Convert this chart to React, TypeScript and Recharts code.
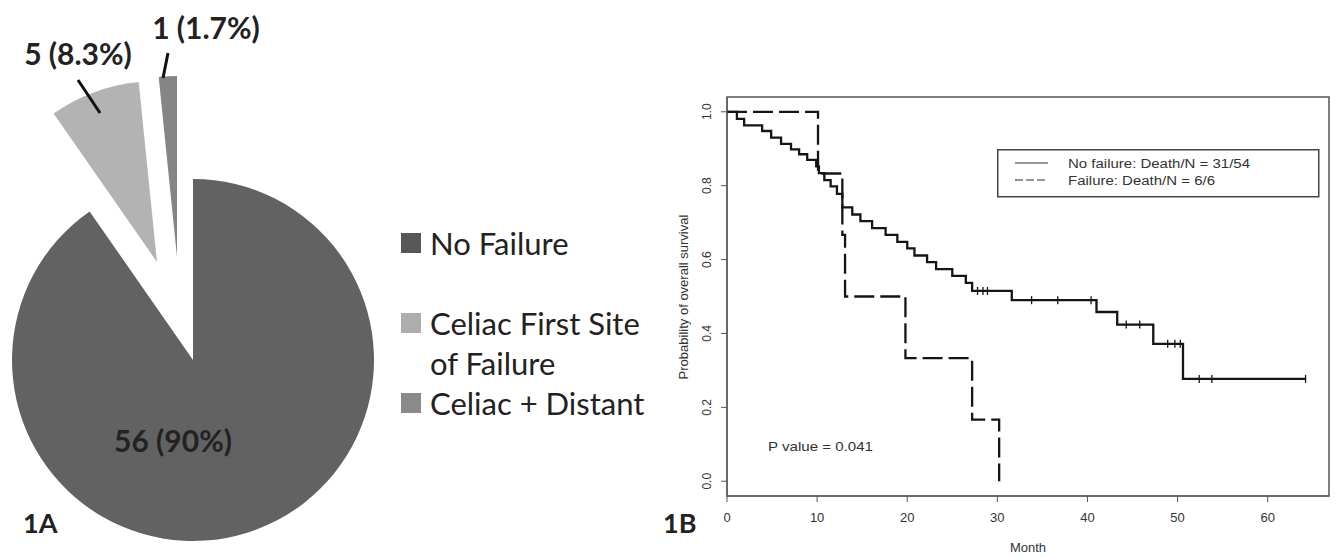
import React from 'react';
import { PieChart, Pie, Cell, ComposedChart, Line, Scatter, XAxis, YAxis, ReferenceArea } from 'recharts';

// 1A: first site of failure
const failureCategories = ['No Failure', 'Celiac First Site of Failure', 'Celiac + Distant'];
const failureCounts = [56, 5, 1];
const failureLabels = ['56 (90%)', '5 (8.3%)', '1 (1.7%)'];

// 1B: overall survival (Kaplan-Meier)
const noFailureMonths = [0, 1.1, 1.9, 3.9, 4.9, 6.0, 7.1, 8.0, 8.9, 9.9, 10.2, 10.8, 11.5, 12.2, 12.8, 13.9, 14.8, 16.1, 17.6, 18.9, 20.0, 20.8, 22.2, 23.2, 25.0, 26.5, 27.2, 31.6, 41.0, 43.3, 47.3, 50.6, 64.2];
const noFailureSurvival = [1, 0.981, 0.963, 0.948, 0.93, 0.913, 0.898, 0.885, 0.87, 0.852, 0.834, 0.815, 0.798, 0.778, 0.741, 0.722, 0.704, 0.685, 0.667, 0.648, 0.63, 0.611, 0.593, 0.574, 0.556, 0.537, 0.515, 0.49, 0.458, 0.424, 0.372, 0.277, 0.277];
const censorMonths = [27.8, 28.4, 28.9, 33.8, 36.7, 40.4, 44.3, 45.8, 48.9, 49.7, 50.3, 52.4, 53.8, 64.2];
const censorSurvival = [0.515, 0.515, 0.515, 0.49, 0.49, 0.49, 0.424, 0.424, 0.372, 0.372, 0.372, 0.277, 0.277, 0.277];
const failureMonths = [0, 10.1, 12.8, 13.1, 19.8, 27.2, 30.2];
const failureSurvival = [1, 0.833, 0.667, 0.5, 0.333, 0.167, 0];
const monthTicks = [0, 10, 20, 30, 40, 50, 60];
const survivalTicks = [0, 0.2, 0.4, 0.6, 0.8, 1.0];
const kmLegendLabels = ['No failure: Death/N = 31/54', 'Failure: Death/N = 6/6'];
const pValueText = 'P value = 0.041';

const pieData = failureCategories.map((name, i) => ({ name, value: failureCounts[i] }));
const noFailureData = noFailureMonths.map((t, i) => ({ t, s: noFailureSurvival[i] }));
const censorData = censorMonths.map((t, i) => ({ t, s: censorSurvival[i] }));
const failureData = failureMonths.map((t, i) => ({ t, s: failureSurvival[i] }));

const SLICE_COLORS = ['#626262', '#b3b3b3', '#858585'];
const LEGEND_COLORS = ['#575757', '#adadad', '#8a8a8a'];
// exploded slice offsets and label placement, relative to the pie centre
const SLICE_SHIFT = [[0, 0], [-36, -98], [-16, -103]];
const LABEL_POS = [[-20, 80], [-79, -209], [29, -230]];
const LEADERS: (number[] | null)[] = [null, [-57, -149, -79, -182], [-14, -179, -9, -204]];

const PIE_FONT = "Lato, 'Open Sans', sans-serif";
const R_FONT = "'Liberation Sans', Arial, sans-serif";
const INK = '#151515';

const sliceLabel = (layer: number) => (props: any) => {
  if (props.index !== layer) return null;
  const { cx, cy } = props;
  const [lx, ly] = LABEL_POS[layer];
  const lead = LEADERS[layer];
  return (
    <g>
      {lead && (
        <line x1={cx + lead[0]} y1={cy + lead[1]} x2={cx + lead[2]} y2={cy + lead[3]} stroke="#111" strokeWidth={3} />
      )}
      <text x={cx + lx} y={cy + ly} textAnchor="middle" dominantBaseline="central" fontFamily={PIE_FONT} fontWeight={700} fontSize={30} fill="#222">
        {failureLabels[layer]}
      </text>
    </g>
  );
};

const XTick = ({ x, y, payload }: any) => (
  <text x={x} y={y + 20} textAnchor="middle" fontFamily={R_FONT} fontSize={13} fill="#333">
    {payload.value}
  </text>
);

const YTick = ({ x, y, payload }: any) => {
  const bx = x - 10;
  return (
    <text x={bx} y={y} transform={`rotate(-90 ${bx} ${y})`} textAnchor="middle" fontFamily={R_FONT} fontSize={12} fill="#333">
      {payload.value.toFixed(1)}
    </text>
  );
};

const CensorMark = ({ cx, cy }: any) => (
  <line x1={cx} x2={cx} y1={cy - 4} y2={cy + 4} stroke={INK} strokeWidth={1.3} />
);

export default function App() {
  return (
    <div style={{ position: 'absolute', left: 0, top: 0, width: 1337, height: 558, background: '#fff', overflow: 'hidden' }}>
      <div style={{ position: 'absolute', left: 0, top: 0 }}>
        <PieChart width={390} height={558} margin={{ top: 0, right: 0, bottom: 0, left: 0 }}>
          {SLICE_SHIFT.map(([dx, dy], layer) => (
            <Pie
              key={layer}
              data={pieData}
              dataKey="value"
              nameKey="name"
              cx={193 + dx}
              cy={360 + dy}
              outerRadius={181}
              startAngle={90}
              endAngle={-270}
              stroke="none"
              label={sliceLabel(layer)}
              labelLine={false}
              legendType="none"
              isAnimationActive={false}
            >
              {pieData.map((_, j) => (
                <Cell key={j} fill={j === layer ? SLICE_COLORS[j] : 'none'} />
              ))}
            </Pie>
          ))}
        </PieChart>
      </div>

      {/* pie legend */}
      <div style={{ position: 'absolute', left: 401, top: 223, width: 262, fontFamily: PIE_FONT, fontSize: 31, color: '#222', lineHeight: '40px' }}>
        {failureCategories.map((name, i) => (
          <div key={name} style={{ position: 'relative', paddingLeft: 29, marginBottom: i === 0 ? 40 : 0 }}>
            <span style={{ position: 'absolute', left: 0, top: 10, width: 20, height: 20, background: LEGEND_COLORS[i] }} />
            {name}
          </div>
        ))}
      </div>

      <div style={{ position: 'absolute', left: 660, top: 0 }}>
        <ComposedChart width={677} height={558} margin={{ top: 97, right: 8, bottom: 32, left: 27 }}>
          <XAxis
            type="number"
            dataKey="t"
            domain={[0, 66.8]}
            ticks={monthTicks}
            allowDataOverflow
            height={30}
            tickSize={6}
            tickMargin={0}
            tick={<XTick />}
            tickLine={{ stroke: '#555' }}
            axisLine={{ stroke: '#555' }}
            label={{ value: 'Month', position: 'bottom', offset: 17, fontFamily: R_FONT, fontSize: 13, fill: '#333' }}
          />
          <YAxis
            type="number"
            dataKey="s"
            domain={[-0.04, 1.04]}
            ticks={survivalTicks}
            allowDataOverflow
            width={40}
            tickSize={6}
            tickMargin={0}
            tick={<YTick />}
            tickLine={{ stroke: '#555' }}
            axisLine={{ stroke: '#555' }}
          />
          <ReferenceArea x1={0} x2={66.8} y1={-0.04} y2={1.04} fill="none" stroke="#555" strokeWidth={1.5} />
          <Line data={noFailureData} dataKey="s" type="stepAfter" stroke={INK} strokeWidth={2.3} dot={false} activeDot={false} isAnimationActive={false} />
          <Line data={failureData} dataKey="s" type="stepAfter" stroke={INK} strokeWidth={2.3} strokeDasharray="20 6" dot={false} activeDot={false} isAnimationActive={false} />
          <Scatter data={censorData} dataKey="s" shape={<CensorMark />} legendType="none" isAnimationActive={false} />
        </ComposedChart>
      </div>

      {/* annotations */}
      <svg width={1337} height={558} style={{ position: 'absolute', left: 0, top: 0, pointerEvents: 'none' }}>
        <text x={23} y={533} fontFamily={PIE_FONT} fontWeight={700} fontSize={27} fill="#222">1A</text>
        <text x={663} y={533} fontFamily={PIE_FONT} fontWeight={700} fontSize={27} fill="#222">1B</text>
        <text x={688} y={297} transform="rotate(-90 688 297)" textAnchor="middle" fontFamily={R_FONT} fontSize={13} fill="#333">
          Probability of overall survival
        </text>
        <text x={768} y={451} fontFamily={R_FONT} fontSize={13} fill="#333" textLength={105} lengthAdjust="spacingAndGlyphs">
          {pValueText}
        </text>
        <g transform="translate(997 149)">
          <rect x={0.75} y={0.75} width={321} height={47} fill="#fff" stroke="#444" strokeWidth={1.5} />
          {kmLegendLabels.map((lbl, i) => (
            <g key={lbl}>
              <line x1={18} x2={51} y1={14 + 17 * i} y2={14 + 17 * i} stroke="#333" strokeWidth={1.2} strokeDasharray={i === 1 ? '8 3' : undefined} />
              <text x={71} y={18.5 + 17 * i} fontFamily={R_FONT} fontSize={12.5} fill="#333" textLength={i === 0 ? 182 : 147} lengthAdjust="spacingAndGlyphs">
                {lbl}
              </text>
            </g>
          ))}
        </g>
      </svg>
    </div>
  );
}
